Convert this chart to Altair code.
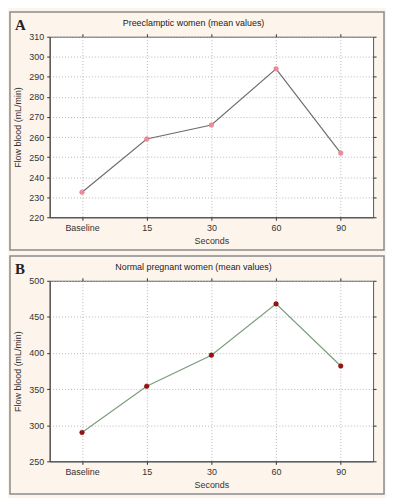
import altair as alt
import pandas as pd

seconds = ["Baseline", "15", "30", "60", "90"]
preeclamptic = [232.5, 259, 266, 294, 252]
normal = [290, 354, 397, 468, 382]

W, H = 326, 182
FONT = "Liberation Sans"


def panel(values, letter, title, ydomain, ystep, line_color, pt_color, pt_stroke):
    df = pd.DataFrame({"Seconds": seconds, "Flow": values})
    yvals = list(range(ydomain[0], ydomain[1] + 1, ystep))
    xscale = alt.Scale(type="point", padding=0.5)
    yscale = alt.Scale(domain=ydomain, nice=False, zero=False)
    xaxis = alt.Axis(title="Seconds", labelAngle=0, grid=True, gridDash=[1, 2],
                     gridColor="#b8b8b8", tickColor="#333", tickSize=3,
                     domainColor="#444", labelFont=FONT, labelFontSize=9,
                     labelColor="#333", titleFont=FONT, titleFontSize=9,
                     titleFontWeight="normal", titleColor="#333", labelPadding=3,
                     titlePadding=4)
    yaxis = alt.Axis(title="Flow blood (mL/min)", values=yvals, grid=True,
                     gridDash=[1, 2], gridColor="#b8b8b8", tickColor="#333",
                     tickSize=3, domainColor="#444", labelFont=FONT,
                     labelFontSize=9, labelColor="#333", titleFont=FONT,
                     titleFontSize=9, titleFontWeight="normal", titleColor="#333",
                     labelPadding=3, titlePadding=6, labelOverlap=False,
                     labelFlush=False)
    base = alt.Chart(df)
    x = alt.X("Seconds:N", sort=seconds, scale=xscale, axis=xaxis)
    y = alt.Y("Flow:Q", scale=yscale, axis=yaxis)
    line = base.mark_line(color=line_color, strokeWidth=1.2).encode(x=x, y=y)
    pts = base.mark_point(filled=True, color=pt_color, stroke=pt_stroke,
                          strokeWidth=0.5, size=22, opacity=1).encode(x=x, y=y)
    mirror = base.mark_point(opacity=0).encode(
        x=alt.X("Seconds:N", sort=seconds, scale=xscale,
                axis=alt.Axis(orient="top", labels=False, title=None, grid=False,
                              domain=False, tickColor="#333", tickSize=3)),
        y=alt.Y("Flow:Q", scale=yscale,
                axis=alt.Axis(orient="right", labels=False, title=None,
                              grid=False, domain=False, values=yvals,
                              labelOverlap=False,
                              tickColor="#333", tickSize=3)))
    meta = alt.Chart(pd.DataFrame({"letter": [letter], "title": [title]}))
    frame = meta.mark_rect(filled=False, stroke="#8a8a8a", strokeWidth=1.5).encode(
        x=alt.value(-40), x2=alt.value(W + 11), y=alt.value(-25), y2=alt.value(H + 33))
    lab = meta.mark_text(font="Liberation Serif", fontWeight="bold", fontSize=15,
                         color="#222", align="left", baseline="middle").encode(
        x=alt.value(-35), y=alt.value(-12), text="letter:N")
    ttl = meta.mark_text(font=FONT, fontSize=9, color="#222", align="center",
                         baseline="middle").encode(
        x=alt.value(W / 2 - 18), y=alt.value(-14), text="title:N")
    main = alt.layer(frame, line, pts, lab, ttl)
    return alt.layer(main, mirror).resolve_axis(x="independent", y="independent").properties(
        width=W, height=H)


a = panel(preeclamptic, "A", "Preeclamptic women (mean values)", [220, 310], 10,
          "#6e6e6e", "#f08a9c", "#e07080")
b = panel(normal, "B", "Normal pregnant women (mean values)", [250, 500], 50,
          "#7d9c7d", "#a01010", "#700000")

chart = alt.vconcat(a, b, spacing=2).properties(
    padding=0, background="#fdf5ec"
).configure_view(fill="white", stroke="#555", strokeWidth=1)

chart.save("out.html", embed_options={"renderer": "svg", "actions": False})
